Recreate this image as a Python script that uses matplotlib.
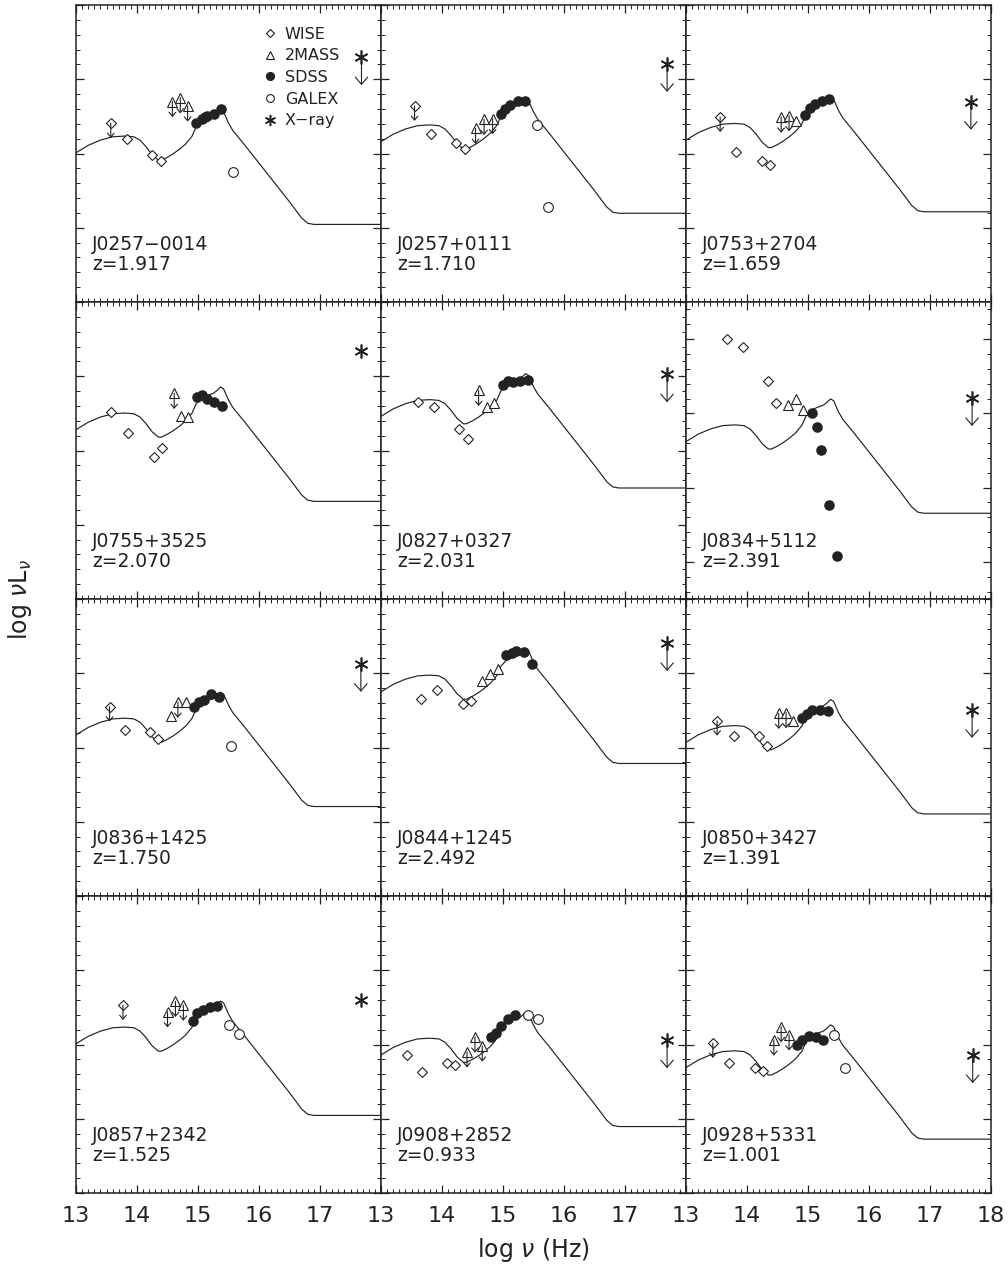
import matplotlib
matplotlib.use("Agg")
import matplotlib.pyplot as plt
from matplotlib.lines import Line2D
from matplotlib.ticker import MultipleLocator

plt.rcParams["font.family"] = ["DejaVu Sans"]
plt.rcParams["mathtext.fontset"] = "dejavusans"

# object names and redshifts, row by row
names = ["J0257\u22120014", "J0257+0111", "J0753+2704",
         "J0755+3525", "J0827+0327", "J0834+5112",
         "J0836+1425", "J0844+1245", "J0850+3427",
         "J0857+2342", "J0908+2852", "J0928+5331"]
redshifts = ["1.917", "1.710", "1.659",
             "2.070", "2.031", "2.391",
             "1.750", "2.492", "1.391",
             "1.525", "0.933", "1.001"]

# mean quasar SED template (relative to value at log nu = 13)
sed_x = [13.0, 13.2, 13.4, 13.6, 13.8, 13.95, 14.05, 14.15, 14.25, 14.35,
         14.4, 14.5, 14.6, 14.7, 14.8, 14.9, 14.97, 15.05, 15.15, 15.25,
         15.3, 15.37, 15.42, 15.5, 15.57, 15.65, 15.75, 16.0, 16.25, 16.5,
         16.7, 16.8, 16.9, 17.2, 18.0]
sed_shape = [0.0, 0.10, 0.17, 0.215, 0.225, 0.215, 0.17, 0.08, -0.03, -0.10,
             -0.10, -0.06, -0.01, 0.05, 0.12, 0.22, 0.35, 0.42, 0.46, 0.49,
             0.52, 0.575, 0.55, 0.40, 0.30, 0.22, 0.12, -0.14, -0.40, -0.66,
             -0.88, -0.95, -0.965, -0.965, -0.965]
sed_level = [46.01, 46.16, 46.18,
             46.28, 46.46, 46.62,
             46.17, 46.75, 46.07,
             46.01, 45.86, 45.69]
y_top = [48, 48, 48,
         48, 48, 48.5,
         48, 48, 48,
         48, 48, 48]

# WISE
wise_x = [[13.57, 13.84, 14.25, 14.39], [13.55, 13.82, 14.23, 14.37], [13.56, 13.82, 14.24, 14.38],
          [13.58, 13.86, 14.28, 14.41], [13.60, 13.87, 14.28, 14.42], [13.67, 13.93, 14.35, 14.48],
          [13.55, 13.80, 14.22, 14.35], [13.66, 13.92, 14.34, 14.48], [13.51, 13.78, 14.20, 14.33],
          [13.77], [13.42, 13.67, 14.09, 14.22], [13.44, 13.70, 14.13, 14.26]]
wise_y = [[46.41, 46.19, 45.98, 45.90], [46.64, 46.26, 46.14, 46.06], [46.49, 46.02, 45.90, 45.85],
          [46.52, 46.23, 45.91, 46.04], [46.65, 46.58, 46.29, 46.15], [48.00, 47.89, 47.44, 47.14],
          [46.55, 46.24, 46.21, 46.11], [46.65, 46.77, 46.58, 46.63], [46.36, 46.15, 46.15, 46.02],
          [46.53], [45.86, 45.63, 45.75, 45.72], [46.02, 45.75, 45.68, 45.64]]
wise_ul = [[1, 0, 0, 0], [1, 0, 0, 0], [1, 0, 0, 0],
           [0, 0, 0, 0], [0, 0, 0, 0], [0, 0, 0, 0],
           [1, 0, 0, 0], [0, 0, 0, 0], [1, 0, 0, 0],
           [1], [0, 0, 0, 0], [1, 0, 0, 0]]

# 2MASS
tmass_x = [[14.58, 14.71, 14.83], [14.55, 14.69, 14.83], [14.56, 14.69, 14.81],
           [14.61, 14.72, 14.84], [14.60, 14.73, 14.85], [14.67, 14.80, 14.91],
           [14.55, 14.67, 14.80], [14.66, 14.79, 14.92], [14.52, 14.64, 14.76],
           [14.50, 14.63, 14.76], [14.41, 14.54, 14.66], [14.44, 14.56, 14.69]]
tmass_y = [[46.70, 46.75, 46.64], [46.34, 46.46, 46.47], [46.49, 46.51, 46.44],
           [46.77, 46.46, 46.45], [46.81, 46.58, 46.64], [47.11, 47.20, 47.05],
           [46.43, 46.61, 46.61], [46.90, 46.99, 47.06], [46.46, 46.47, 46.36],
           [46.44, 46.58, 46.53], [45.90, 46.10, 45.98], [46.06, 46.24, 46.13]]
tmass_ul = [[1, 1, 1], [1, 1, 1], [1, 1, 0],
            [1, 0, 0], [1, 0, 0], [0, 0, 0],
            [0, 1, 0], [0, 0, 0], [1, 1, 0],
            [1, 1, 1], [1, 1, 1], [1, 1, 1]]

# SDSS
sdss_x = [[14.97, 15.06, 15.11, 15.14, 15.26, 15.37], [14.96, 15.03, 15.11, 15.24, 15.36],
          [14.95, 15.03, 15.11, 15.23, 15.35], [14.99, 15.07, 15.15, 15.27, 15.40],
          [15.00, 15.08, 15.16, 15.28, 15.41], [15.06, 15.14, 15.22, 15.34, 15.47],
          [14.94, 15.02, 15.10, 15.22, 15.35], [15.05, 15.14, 15.22, 15.34, 15.47],
          [14.90, 14.98, 15.07, 15.20, 15.32], [14.91, 14.98, 15.08, 15.20, 15.31],
          [14.81, 14.88, 14.97, 15.09, 15.20], [14.82, 14.90, 15.02, 15.13, 15.25]]
sdss_y = [[46.41, 46.47, 46.49, 46.50, 46.53, 46.60], [46.53, 46.60, 46.65, 46.71, 46.71],
          [46.52, 46.61, 46.67, 46.71, 46.74], [46.72, 46.75, 46.70, 46.65, 46.60],
          [46.88, 46.93, 46.92, 46.93, 46.95], [47.01, 46.81, 46.51, 45.76, 45.08],
          [46.54, 46.61, 46.64, 46.72, 46.68], [47.24, 47.27, 47.30, 47.29, 47.12],
          [46.40, 46.45, 46.51, 46.51, 46.49], [46.32, 46.43, 46.46, 46.50, 46.52],
          [46.10, 46.16, 46.25, 46.35, 46.40], [45.99, 46.06, 46.11, 46.10, 46.06]]

# GALEX
galex_x = [[15.57], [15.55, 15.73], [], [], [], [],
           [15.54], [], [], [15.51, 15.68], [15.41, 15.57], [15.43, 15.61]]
galex_y = [[45.75], [46.38, 45.28], [], [], [], [],
           [46.02], [], [], [46.26, 46.14], [46.40, 46.35], [46.13, 45.68]]

# X-ray
xray_x = [17.68, 17.69, 17.67, 17.67, 17.69, 17.69,
          17.67, 17.69, 17.69, 17.67, 17.69, 17.70]
xray_y = [47.30, 47.21, 46.70, 47.34, 47.03, 47.21,
          47.13, 47.41, 46.51, 46.60, 46.06, 45.86]
xray_ul = [1, 1, 1, 0, 1, 1, 1, 1, 1, 0, 1, 1]

W, H = 1008, 1271
fig = plt.figure(figsize=(W / 100, H / 100), dpi=100)

left_px, top_px, pw, ph = 76, 5, 305, 297
ink = "#222222"


def down_arrow(ax, x, y, length, scale):
    ax.annotate("", xy=(x, y - length), xytext=(x, y),
                arrowprops=dict(arrowstyle="->,head_length=0.35,head_width=0.3",
                                lw=0.8, color=ink, shrinkA=0, shrinkB=0,
                                mutation_scale=scale))


for i in range(12):
    r, c = divmod(i, 3)
    x0 = (left_px + c * pw) / W
    y0 = 1 - (top_px + (r + 1) * ph) / H
    ax = fig.add_axes([x0, y0, pw / W, ph / H])
    ax.set_xlim(13, 18)
    ax.set_ylim(y_top[i] - 4, y_top[i])

    ax.plot(sed_x, [v + sed_level[i] for v in sed_shape], color=ink, lw=0.85)

    for x, y, ul in zip(wise_x[i], wise_y[i], wise_ul[i]):
        if ul:
            down_arrow(ax, x, y, 0.2, 8)
    ax.plot(wise_x[i], wise_y[i], ls="none", marker="D", ms=5,
            mfc="white", mec=ink, mew=0.8)

    for x, y, ul in zip(tmass_x[i], tmass_y[i], tmass_ul[i]):
        if ul:
            down_arrow(ax, x, y, 0.21, 8)
    ax.plot(tmass_x[i], tmass_y[i], ls="none", marker="^", ms=6.5,
            mfc="white", mec=ink, mew=0.8)

    ax.plot(sdss_x[i], sdss_y[i], ls="none", marker="o", ms=6.6,
            mfc=ink, mec=ink)
    ax.plot(galex_x[i], galex_y[i], ls="none", marker="o", ms=7,
            mfc="white", mec=ink, mew=0.8)

    if xray_ul[i]:
        down_arrow(ax, xray_x[i], xray_y[i], 0.38, 15)
    ax.plot([xray_x[i]], [xray_y[i]], ls="none", marker=(6, 2, 0), ms=10,
            mec=ink, mew=1.2)

    ax.text(0.052, 0.195, names[i], transform=ax.transAxes, fontsize=13.5,
            color=ink, va="center", ha="left")
    ax.text(0.052, 0.125, "z=" + redshifts[i], transform=ax.transAxes,
            fontsize=13.5, color=ink, va="center", ha="left")

    ax.xaxis.set_major_locator(MultipleLocator(1))
    ax.xaxis.set_minor_locator(MultipleLocator(0.1))
    ax.yaxis.set_major_locator(MultipleLocator(1))
    ax.yaxis.set_minor_locator(MultipleLocator(0.2))
    ax.tick_params(which="both", direction="in", top=True, right=True,
                   color=ink, labelleft=False)
    ax.tick_params(which="major", length=6, width=0.9)
    ax.tick_params(which="minor", length=3, width=0.7)
    for s in ax.spines.values():
        s.set_linewidth(1.1)
        s.set_color(ink)

    if r == 3:
        ticks = list(range(13, 19))
        labels = [str(t) for t in ticks]
        if c < 2:
            labels[-1] = ""
        ax.set_xticks(ticks)
        ax.set_xticklabels(labels)
        ax.tick_params(axis="x", labelsize=16, pad=9, labelcolor=ink)
    else:
        ax.tick_params(axis="x", labelbottom=False)

    if i == 0:
        handles = [
            Line2D([], [], ls="none", marker="D", ms=4.2, mfc="white", mec=ink, mew=0.8),
            Line2D([], [], ls="none", marker="^", ms=5.2, mfc="white", mec=ink, mew=0.8),
            Line2D([], [], ls="none", marker="o", ms=5.6, mfc=ink, mec=ink),
            Line2D([], [], ls="none", marker="o", ms=5.6, mfc="white", mec=ink, mew=0.8),
            Line2D([], [], ls="none", marker=(6, 2, 0), ms=8, mec=ink, mew=1.1),
        ]
        leg = ax.legend(handles, ["WISE", "2MASS", "SDSS", "GALEX", "X\u2212ray"],
                        loc="upper left", bbox_to_anchor=(0.58, 0.965),
                        frameon=False, fontsize=11.5, handlelength=0.8,
                        handletextpad=0.5, labelspacing=0.42, borderpad=0.2)
        for t in leg.get_texts():
            t.set_color(ink)

fig.text(20 / W, 1 - 600 / H, r"log $\nu$L$_\nu$", rotation=90, fontsize=17,
         color=ink, ha="center", va="center")
fig.text(533 / W, 1 - 1250 / H, r"log $\nu$ (Hz)", fontsize=17,
         color=ink, ha="center", va="center")

fig.savefig("out.png", dpi=100)
